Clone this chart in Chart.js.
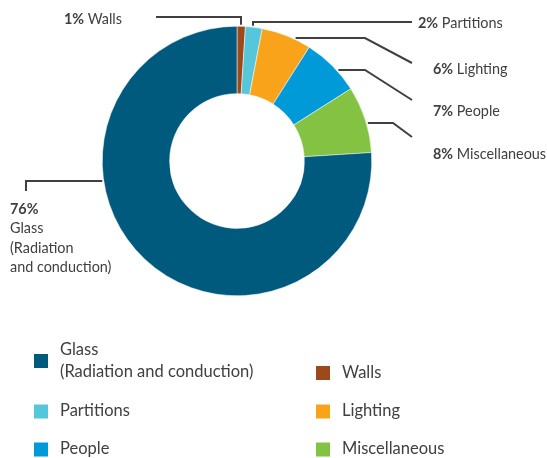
<!DOCTYPE html>
<html>
<head>
<meta charset="utf-8">
<script src="https://cdn.jsdelivr.net/npm/chart.js@4"></script>
<style>
html,body{margin:0;padding:0;background:#fff;}
canvas{display:block;}
</style>
</head>
<body>
<canvas id="c" width="547" height="458"></canvas>
<script>
// ---- data ----
const categories = ['Walls', 'Partitions', 'Lighting', 'People', 'Miscellaneous', 'Glass'];
const values = [1, 2, 6, 7, 8, 76];
const colors = ['#9C4A1A', '#56C6DA', '#F9A31A', '#019AD9', '#83C242', '#005A7D'];
const calloutNames = [['Walls'], ['Partitions'], ['Lighting'], ['People'], ['Miscellaneous'], ['Glass', '(Radiation', 'and conduction)']];
const legendNames = [['Glass', '(Radiation and conduction)'], ['Walls'], ['Partitions'], ['Lighting'], ['People'], ['Miscellaneous']];
const legendOrder = [5, 0, 1, 2, 3, 4];

// ---- layout (positions only) ----
const FONT = 'Lato, "Open Sans", sans-serif';
const TEXT = '#404040';
const LINE = '#404040';
const LABEL_SIZE = 14.4;
const LEGEND_SIZE = 16.5;
const callouts = [
  {tx: 122, ty: 19, align: 'right', path: [[156, 17], [241, 17]], end: 'v'},
  {tx: 418, ty: 23, align: 'left', path: [[412, 22], [253, 22]], end: 'v'},
  {tx: 433, ty: 69, align: 'left', path: [[412, 63], [365, 38]], end: 'h'},
  {tx: 433, ty: 111, align: 'left', path: [[412, 100], [365, 70]], end: 'h'},
  {tx: 433, ty: 154, align: 'left', path: [[412, 137], [393, 123]], end: 'h'},
  {tx: 10, ty: 209, align: 'left', stacked: true, lh: 19.5, path: [[26, 191], [26, 181]], end: 'h'}
];
const legendPos = [
  {x: 34, y: 361, tx: 60, lines: [350, 371.5]},
  {x: 316, y: 373, tx: 342, lines: [373]},
  {x: 34, y: 411.5, tx: 60, lines: [411]},
  {x: 316, y: 411.5, tx: 342, lines: [411]},
  {x: 34, y: 449.5, tx: 60, lines: [449]},
  {x: 316, y: 449.5, tx: 342, lines: [449]}
];

const overlay = {
  id: 'overlay',
  afterDraw(chart) {
    const ctx = chart.ctx;
    const meta = chart.getDatasetMeta(0);
    const a0 = meta.data[0];
    const cx = a0.x, cy = a0.y, r = a0.outerRadius + 1.5;
    const total = values.reduce((s, v) => s + v, 0);
    ctx.save();
    ctx.strokeStyle = LINE;
    ctx.lineWidth = 2;
    ctx.lineJoin = 'miter';
    callouts.forEach((c, i) => {
      const pts = c.path.slice();
      const last = pts[pts.length - 1];
      let end;
      if (c.end === 'v') {
        const dx = last[0] - cx;
        end = [last[0], cy - Math.sqrt(Math.max(r * r - dx * dx, 0))];
      } else {
        const dy = last[1] - cy;
        const side = last[0] > cx ? 1 : -1;
        end = [cx + side * Math.sqrt(Math.max(r * r - dy * dy, 0)), last[1]];
      }
      pts.push(end);
      ctx.beginPath();
      pts.forEach((p, k) => k ? ctx.lineTo(p[0], p[1]) : ctx.moveTo(p[0], p[1]));
      ctx.stroke();
      const pct = Math.round(values[i] / total * 100) + '%';
      ctx.textBaseline = 'middle';
      ctx.fillStyle = TEXT;
      const bold = 'bold ' + LABEL_SIZE + 'px ' + FONT;
      const norm = LABEL_SIZE + 'px ' + FONT;
      if (c.stacked) {
        ctx.textAlign = 'left';
        ctx.font = bold;
        ctx.fillText(pct, c.tx, c.ty);
        ctx.font = norm;
        calloutNames[i].forEach((t, k) => ctx.fillText(t, c.tx, c.ty + (k + 1) * c.lh));
      } else {
        ctx.font = bold;
        const pw = ctx.measureText(pct).width;
        ctx.font = norm;
        const name = ' ' + calloutNames[i][0];
        const nw = ctx.measureText(name).width;
        const x0 = c.align === 'right' ? c.tx - pw - nw : c.tx;
        ctx.textAlign = 'left';
        ctx.font = bold;
        ctx.fillText(pct, x0, c.ty);
        ctx.font = norm;
        ctx.fillText(name, x0 + pw, c.ty);
      }
    });
    ctx.textAlign = 'left';
    ctx.textBaseline = 'middle';
    ctx.font = LEGEND_SIZE + 'px ' + FONT;
    legendOrder.forEach((idx, k) => {
      const p = legendPos[k];
      ctx.fillStyle = colors[idx];
      ctx.fillRect(p.x, p.y - 7, 14, 14);
      ctx.fillStyle = TEXT;
      legendNames[k].forEach((t, j) => ctx.fillText(t, p.tx, p.lines[j]));
    });
    ctx.restore();
  }
};

new Chart(document.getElementById('c'), {
  type: 'doughnut',
  data: {
    labels: categories,
    datasets: [{
      data: values,
      backgroundColor: colors,
      borderWidth: 0.5,
      borderColor: '#ffffff'
    }]
  },
  options: {
    responsive: false,
    animation: false,
    cutout: '50%',
    layout: {padding: {left: 102, right: 175, top: 26, bottom: 162}},
    plugins: {legend: {display: false}, tooltip: {enabled: false}}
  },
  plugins: [overlay]
});
</script>
</body>
</html>
